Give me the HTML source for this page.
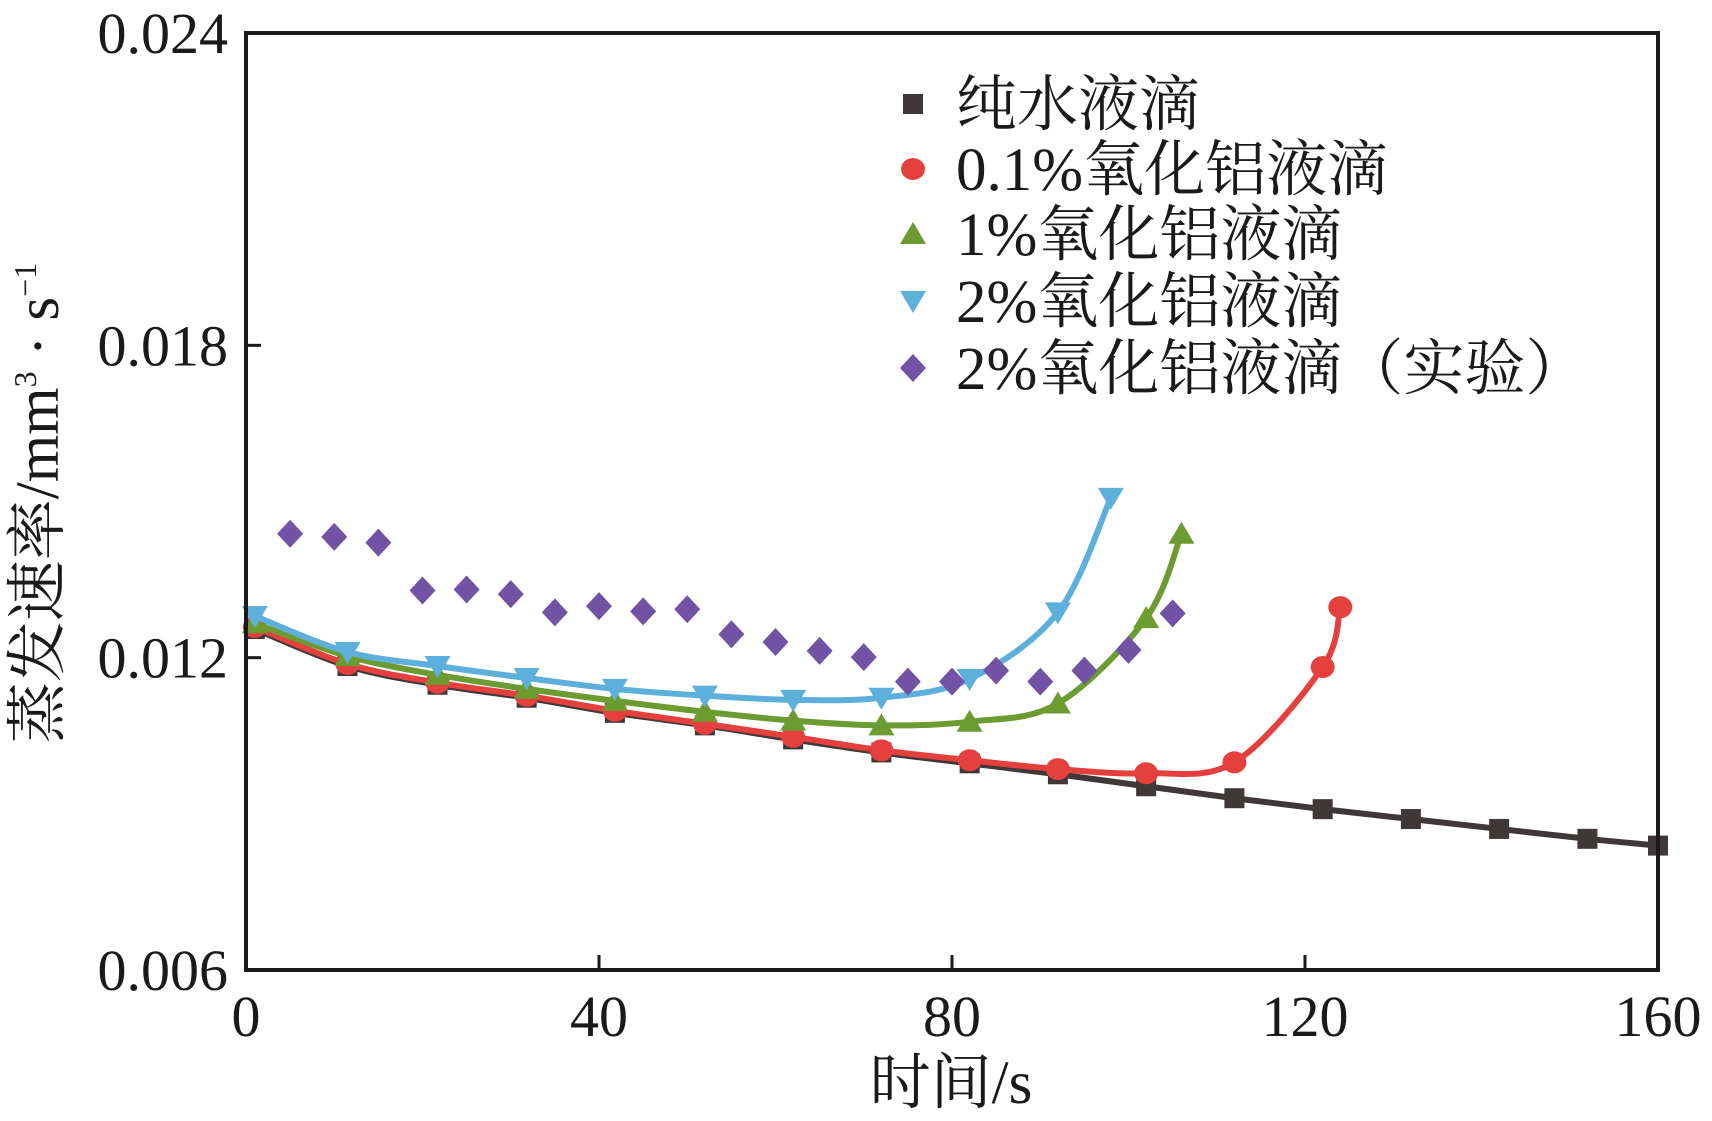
<!DOCTYPE html>
<html><head><meta charset="utf-8"><style>
html,body{margin:0;padding:0;background:#fff}
svg{display:block}
.tk{font-family:"Liberation Serif",serif;font-size:58px;fill:#1a1a1a}
.lg{font-family:"Liberation Serif","Noto Serif CJK SC",serif;font-size:61px;fill:#1a1a1a}
</style></head><body>
<svg id="chart" width="1712" height="1121" viewBox="0 0 1712 1121" xmlns="http://www.w3.org/2000/svg">
<g id="marks"></g>
<rect x="246" y="33" width="1412" height="937" fill="none" stroke="#1a1a1a" stroke-width="4"/>
<g id="axes"></g>
<text class="lg" font-size="52" text-anchor="middle" transform="translate(58,503) rotate(-90)">蒸发速率/mm<tspan font-size="32" dy="-22">3</tspan><tspan dy="22"> · s</tspan><tspan font-size="32" dy="-22">−1</tspan></text>
<text class="lg" font-size="56" text-anchor="middle" x="951" y="1103">时间/s</text>
<g id="legend"></g>
</svg>
<script>
const xTicks=[0,40,80,120,160];
const yTicks=[0.006,0.012,0.018,0.024];
const yTickLabels=["0.006","0.012","0.018","0.024"];
const tWater=[1,11.5,21.7,31.8,41.8,52,62,72,82,92,102,112,122,132,142,152,160];
const vWater=[0.01255,0.01184,0.01148,0.01123,0.01094,0.0107,0.01043,0.01018,0.00997,0.00976,0.00953,0.0093,0.00909,0.0089,0.00871,0.00852,0.00839];
const tAl01=[1,11.5,21.7,31.8,41.8,52,62,72,82,92,102,112,122,124];
const vAl01=[0.01259,0.01188,0.01152,0.01127,0.01098,0.01073,0.01048,0.01022,0.01003,0.00986,0.00978,0.00999,0.01182,0.01297];
const tAl1=[1,11.5,21.7,31.8,41.8,52,62,72,82,92,102,106];
const vAl1=[0.01266,0.01203,0.01167,0.0114,0.01117,0.01096,0.01079,0.0107,0.01077,0.01112,0.01276,0.01438];
const tAl2=[1,11.5,21.7,31.8,41.8,52,62,72,82,92,98];
const vAl2=[0.0128,0.01211,0.01184,0.01161,0.0114,0.01127,0.01119,0.01123,0.01159,0.01287,0.01507];
const tExp=[5,10,15,20,25,30,35,40,45,50,55,60,65,70,75,80,85,90,95,100,105];
const vExp=[0.01438,0.01432,0.01421,0.01329,0.01331,0.01322,0.01287,0.01299,0.01289,0.01293,0.01245,0.0123,0.01213,0.01201,0.01154,0.01154,0.01175,0.01154,0.01175,0.01215,0.01285];
const legendLabels=["纯水液滴","0.1%氧化铝液滴","1%氧化铝液滴","2%氧化铝液滴","2%氧化铝液滴（实验）"];

const NS="http://www.w3.org/2000/svg";
const X0=246,X1=1658,Y0=970,Y1=33;
function sx(t){return X0+(t-0)/(160-0)*(X1-X0);}
function sy(v){return Y0-(v-0.006)/(0.024-0.006)*(Y0-Y1);}
function mk(tag,attrs,parent){const e=document.createElementNS(NS,tag);for(const k in attrs)e.setAttribute(k,attrs[k]);parent.appendChild(e);return e;}
const marks=document.getElementById('marks'),axes=document.getElementById('axes'),legend=document.getElementById('legend');

xTicks.forEach((t,i)=>{
  if(i>0&&i<xTicks.length-1){const l=mk('line',{x1:sx(t),x2:sx(t),y1:Y0,y2:Y0-15,stroke:'#1a1a1a','stroke-width':3},axes);
  
  }
  const tx=mk('text',{x:sx(t),y:1036,'text-anchor':'middle',class:'tk',textLength:String(t).length*29,lengthAdjust:'spacingAndGlyphs'},axes);tx.textContent=t;
  
  
});
yTicks.forEach((v,i)=>{
  if(i>0&&i<yTicks.length-1){const l=mk('line',{x1:X0,x2:X0+15,y1:sy(v),y2:sy(v),stroke:'#1a1a1a','stroke-width':3},axes);
  
  }
  const tx=mk('text',{x:228,y:sy(v)+20,'text-anchor':'end',class:'tk'},axes);tx.textContent=yTickLabels[i];
  
  
});

function smooth(ts,vs){
  const p=ts.map((t,i)=>[sx(t),sy(vs[i])]);
  let d='M'+p[0][0]+','+p[0][1];
  for(let i=0;i<p.length-1;i++){
    const p0=p[i-1]||p[i],p1=p[i],p2=p[i+1],p3=p[i+2]||p2;
    const c1=[p1[0]+(p2[0]-p0[0])/6,p1[1]+(p2[1]-p0[1])/6],c2=[p2[0]-(p3[0]-p1[0])/6,p2[1]-(p3[1]-p1[1])/6];
    d+=' C'+c1[0]+','+c1[1]+' '+c2[0]+','+c2[1]+' '+p2[0]+','+p2[1];
  }
  return d;
}
function marker(type,x,y,color,parent){
  let e;
  if(type==='square')e=mk('rect',{x:x-10,y:y-10,width:20,height:20,fill:color},parent);
  else if(type==='circle')e=mk('ellipse',{cx:x,cy:y,rx:12,ry:11,fill:color},parent);
  else if(type==='up')e=mk('polygon',{points:`${x},${y-12} ${x-13},${y+10} ${x+13},${y+10}`,fill:color},parent);
  else if(type==='down')e=mk('polygon',{points:`${x},${y+12} ${x-13},${y-10} ${x+13},${y-10}`,fill:color},parent);
  else e=mk('polygon',{points:`${x},${y-14} ${x+13},${y} ${x},${y+14} ${x-13},${y}`,fill:color},parent);
  return e;
}
const series=[
  {name:'water',t:tWater,v:vWater,c:'#3f3838',m:'square',line:true},
  {name:'al-0-1',t:tAl01,v:vAl01,c:'#e5403e',m:'circle',line:true},
  {name:'al-1',t:tAl1,v:vAl1,c:'#6c9b31',m:'up',line:true},
  {name:'al-2',t:tAl2,v:vAl2,c:'#5eb0dc',m:'down',line:true},
  {name:'al-2-exp',t:tExp,v:vExp,c:'#7152a4',m:'diamond',line:false}
];
series.forEach(s=>{
  const g=mk('g',{},marks);
  
  
  if(s.line){const p=mk('path',{d:smooth(s.t,s.v),fill:'none',stroke:s.c,'stroke-width':6,'stroke-linejoin':'round'},g);
    
    }
  s.t.forEach((t,i)=>{const e=marker(s.m,sx(t),sy(s.v[i]),s.c,g);
    
    });
});
const legY=[104,169,234,301,368];
series.forEach((s,i)=>{
  const g=mk('g',{},legend);
  
  
  marker(s.m,913,legY[i],s.c,g);
  const tx=mk('text',{x:956,y:legY[i]+21,class:'lg'},g);tx.textContent=legendLabels[i];
});
</script>
</body></html>
